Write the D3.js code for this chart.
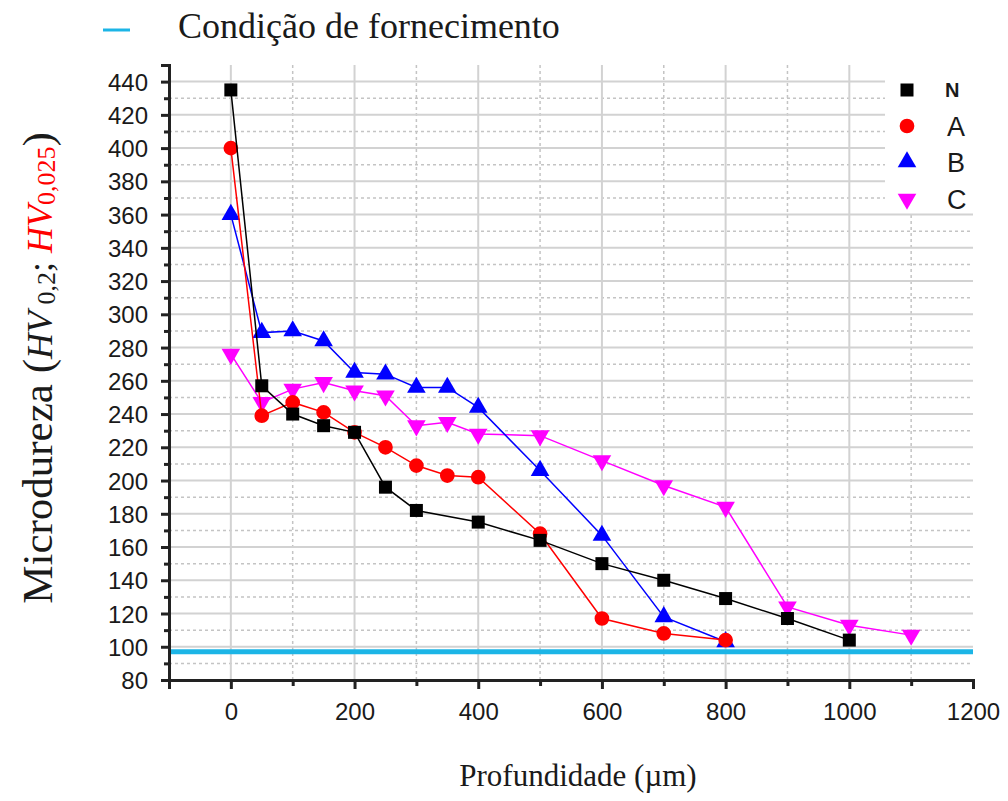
<!DOCTYPE html>
<html>
<head>
<meta charset="utf-8">
<script src="https://cdn.jsdelivr.net/npm/d3@7"></script>
<style>
  html, body { margin: 0; padding: 0; background: #fff; }
  svg { display: block; }
</style>
</head>
<body>
<svg id="chart" width="1008" height="801"></svg>
<script>
// Depth positions (µm) for each profile
const depthN = [0, 50, 100, 150, 200, 250, 300, 400, 500, 600, 700, 800, 900, 1000];
const hardN  = [435, 257, 240, 233, 229, 196, 182, 175, 164, 150, 140, 129, 117, 104];

const depthA = [0, 50, 100, 150, 200, 250, 300, 350, 400, 500, 600, 700, 800];
const hardA  = [400, 239, 247, 241, 229, 220, 209, 203, 202, 168, 117, 108, 104];

const depthB = [0, 50, 100, 150, 200, 250, 300, 350, 400, 500, 600, 700, 800];
const hardB  = [360, 289, 290, 284, 265, 264, 256, 256, 244, 206, 167, 118, 103];

const depthC = [0, 50, 100, 150, 200, 250, 300, 350, 400, 500, 600, 700, 800, 900, 1000, 1100];
const hardC  = [276, 247, 255, 259, 254, 251, 233, 235, 228, 227, 212, 197, 184, 124, 113, 107];

// Hardness of the as-supplied material
const supplyHardness = 97;

const seriesNames = ["N", "A", "B", "C"];
const yTickValues = [80, 100, 120, 140, 160, 180, 200, 220, 240, 260, 280, 300, 320, 340, 360, 380, 400, 420, 440];
const xTickValues = [0, 200, 400, 600, 800, 1000, 1200];

const svg = d3.select("#chart");

const plot = { left: 169, right: 973, top: 65, bottom: 680 };
const x = d3.scaleLinear().domain([-100, 1200]).range([plot.left, plot.right]);
const y = d3.scaleLinear().domain([80, 450]).range([plot.bottom, plot.top]);

// ---- grid ----
const grid = svg.append("g");
const yMinor = d3.range(90, 450, 20);
const xMinor = d3.range(100, 1200, 200);
grid.selectAll(".hminor").data(yMinor).enter().append("line")
  .attr("x1", plot.left).attr("x2", plot.right)
  .attr("y1", d => y(d)).attr("y2", d => y(d))
  .attr("stroke", "#c4c4c4").attr("stroke-width", 1.5).attr("stroke-dasharray", "3,3");
grid.selectAll(".vminor").data(xMinor).enter().append("line")
  .attr("y1", plot.top).attr("y2", plot.bottom)
  .attr("x1", d => x(d)).attr("x2", d => x(d))
  .attr("stroke", "#c4c4c4").attr("stroke-width", 1.5).attr("stroke-dasharray", "3,3");
grid.selectAll(".hmajor").data(yTickValues.filter(v => v > 80)).enter().append("line")
  .attr("x1", plot.left).attr("x2", plot.right)
  .attr("y1", d => y(d)).attr("y2", d => y(d))
  .attr("stroke", "#d2d2d2").attr("stroke-width", 2);
grid.selectAll(".vmajor").data(xTickValues.slice(0, -1)).enter().append("line")
  .attr("y1", plot.top).attr("y2", plot.bottom)
  .attr("x1", d => x(d)).attr("x2", d => x(d))
  .attr("stroke", "#d2d2d2").attr("stroke-width", 2);

// legend panel background hides the grid behind it
svg.append("rect").attr("x", 885).attr("y", plot.top).attr("width", plot.right - 885).attr("height", 147)
  .attr("fill", "#fff");

// ---- supply condition reference line ----
svg.append("line")
  .attr("x1", plot.left).attr("x2", plot.right)
  .attr("y1", y(supplyHardness)).attr("y2", y(supplyHardness))
  .attr("stroke", "#1cb5e6").attr("stroke-width", 5);

// ---- axes ----
const axisColor = "#222";
const yAxis = d3.axisLeft(y).tickValues(yTickValues).tickSize(8).tickPadding(13).tickFormat(d3.format("d"));
const yAxisMinor = d3.axisLeft(y).tickValues(d3.range(90, 451, 20)).tickSize(5).tickFormat("");
const xAxis = d3.axisBottom(x).tickValues(xTickValues).tickSize(9).tickPadding(14).tickFormat(d3.format("d"));
const xAxisMinor = d3.axisBottom(x).tickValues(d3.range(-100, 1200, 200)).tickSize(6).tickFormat("");

function styleAxis(g) {
  g.select(".domain").attr("stroke", axisColor).attr("stroke-width", 3);
  g.selectAll(".tick line").attr("stroke", axisColor).attr("stroke-width", 3);
  g.selectAll("text").attr("fill", "#1a1a1a")
    .style("font-family", "'Liberation Sans', Arial, sans-serif").style("font-size", "24px");
}

svg.append("g").attr("transform", `translate(${plot.left},0)`).call(yAxisMinor).call(styleAxis);
svg.append("g").attr("transform", `translate(${plot.left},0)`).call(yAxis).call(styleAxis)
  .selectAll("text").attr("dy", "0.36em");
svg.append("g").attr("transform", `translate(0,${plot.bottom})`).call(xAxisMinor).call(styleAxis);
svg.append("g").attr("transform", `translate(0,${plot.bottom})`).call(xAxis).call(styleAxis);

// ---- series ----
const series = [
  { name: "N", xs: depthN, ys: hardN, color: "#000000", symbol: d3.symbolSquare, size: 169, rot: 0 },
  { name: "A", xs: depthA, ys: hardA, color: "#ff0000", symbol: d3.symbolCircle, size: 170, rot: 0 },
  { name: "B", xs: depthB, ys: hardB, color: "#0000ff", symbol: d3.symbolTriangle, size: 150, rot: 0 },
  { name: "C", xs: depthC, ys: hardC, color: "#ff00ff", symbol: d3.symbolTriangle, size: 150, rot: 180 }
];

const line = d3.line().x(d => x(d[0])).y(d => y(d[1]));
const drawOrder = [series[3], series[2], series[1], series[0]];
drawOrder.forEach(s => {
  const pts = s.xs.map((v, i) => [v, s.ys[i]]);
  const g = svg.append("g");
  g.append("path").datum(pts).attr("d", line)
    .attr("fill", "none").attr("stroke", s.color).attr("stroke-width", 1.5);
  g.selectAll("path.mk").data(pts).enter().append("path").attr("class", "mk")
    .attr("d", d3.symbol().type(s.symbol).size(s.size))
    .attr("transform", d => `translate(${x(d[0])},${y(d[1])}) rotate(${s.rot})`)
    .attr("fill", s.color);
});

// ---- series legend ----
const legY = [90, 126, 162, 199];
series.forEach((s, i) => {
  svg.append("path")
    .attr("d", d3.symbol().type(s.symbol).size(s.size))
    .attr("transform", `translate(907,${legY[i]}) rotate(${s.rot})`)
    .attr("fill", s.color);
  const isN = s.name === "N";
  svg.append("text")
    .attr("x", isN ? 945 : 947).attr("y", legY[i])
    .attr("dy", "0.36em")
    .style("font-family", "'Liberation Sans', Arial, sans-serif")
    .style("font-size", isN ? "20px" : "27px")
    .style("font-weight", isN ? "bold" : "normal")
    .attr("fill", "#1a1a1a")
    .text(seriesNames[i]);
});

// ---- top legend ----
svg.append("line").attr("x1", 103).attr("x2", 130).attr("y1", 30).attr("y2", 30)
  .attr("stroke", "#1cb5e6").attr("stroke-width", 3);
svg.append("text").attr("x", 178).attr("y", 38)
  .style("font-family", "'Liberation Serif', 'Times New Roman', serif").style("font-size", "36px")
  .attr("fill", "#1a1a1a").text("Condição de fornecimento");

// ---- axis titles ----
svg.append("text").attr("x", 578).attr("y", 786).attr("text-anchor", "middle")
  .style("font-family", "'Liberation Serif', 'Times New Roman', serif").style("font-size", "31px")
  .attr("fill", "#1a1a1a").text("Profundidade (µm)");

const yt = svg.append("text")
  .attr("transform", "translate(52,368) rotate(-90)")
  .attr("text-anchor", "middle")
  .style("font-family", "'Liberation Serif', 'Times New Roman', serif").style("font-size", "43px")
  .attr("fill", "#1a1a1a");
yt.append("tspan").text("Microdureza (");
yt.append("tspan").style("font-style", "italic").style("font-size", "36px").text("HV");
yt.append("tspan").attr("dy", 3).style("font-size", "26px").text(" 0,2");
yt.append("tspan").attr("dy", -3).style("font-size", "36px").text("; ");
yt.append("tspan").style("font-style", "italic").style("font-size", "36px").attr("fill", "#ff0000").text("HV");
yt.append("tspan").attr("dy", 3).style("font-size", "26px").attr("fill", "#ff0000").text("0,025");
yt.append("tspan").attr("dy", -3).text(")");
</script>
</body>
</html>
